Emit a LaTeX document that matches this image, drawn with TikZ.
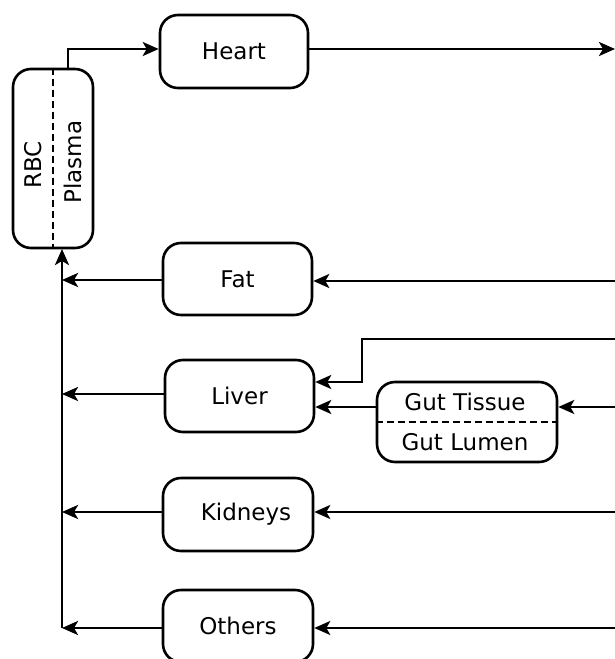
\documentclass[tikz,border=0pt]{standalone}
\usepackage{fontspec}
\setmainfont{DejaVu Sans}
\usetikzlibrary{arrows.meta}
\begin{document}
\begin{tikzpicture}[x=1pt,y=-1pt, line width=2.6pt,
 box/.style={draw, rounded corners=18pt, minimum width=149pt, minimum height=72pt, inner sep=0pt, font=\fontsize{23}{27}\selectfont},
 lbl/.style={inner sep=0pt, font=\fontsize{23}{27}\selectfont},
 arr/.style={-{Stealth[length=16pt,width=14pt,inset=4pt]}},
 sep/.style={line width=2.2pt, dash pattern=on 7pt off 4pt},
 ]
\useasboundingbox (0,0) rectangle (615,659);
% boxes
\node[box, minimum width=80pt, minimum height=179pt] (blood) at (53,158.5) {};
\node[lbl, rotate=90] (rbc) at (33,165) {RBC};
\node[lbl, rotate=90] (plasma) at (73,162) {Plasma};
\draw[sep] (blood.north) -- (blood.south);

\node[box, minimum width=148pt, minimum height=73pt] (heart) at (234,51.5) {Heart};
\node[box] (fat) at (237.5,279) {Fat};
\node[box] (liver) at (239.5,396) {Liver};
\node[box, minimum width=180pt, minimum height=80pt] (gut) at (467,422) {};
\node[lbl] (tissue) at (465,402) {Gut Tissue};
\node[lbl] (lumen) at (465,442) {Gut Lumen};
\draw[sep] (gut.west |- 0,422) -- (gut.east |- 0,422);
\node[box, minimum width=150pt, minimum height=73pt] (kid) at (238,514.5) {\hspace*{16pt}Kidneys};
\node[box, minimum width=150pt, minimum height=72pt] (oth) at (238,626) {Others};

% right-edge coordinates
\coordinate (rh) at (615,49);
\coordinate (rf) at (615,281);
\coordinate (rl) at (615,339);
\coordinate (rg) at (615,407);
\coordinate (rk) at (615,512);
\coordinate (ro) at (615,628);
\coordinate (bend) at (362,339);
% collector line
\coordinate (cbot) at (62,628);
\coordinate (cf) at (62,280);
\coordinate (cl) at (62,394);
\coordinate (ck) at (62,512);

% connectors
\draw[arr] ([xshift=15pt]blood.north) |- ([yshift=2.5pt]heart.west);
\draw[arr] ([yshift=2.5pt]heart.east) -- (rh);
\draw[arr] (rf) -- (fat.east |- rf);
\draw[arr] (fat.west |- cf) -- (cf);
\draw[arr] (rl) -- (bend) |- ([yshift=14pt]liver.east);
\draw[arr] (gut.west |- rg) -- (liver.east |- rg);
\draw[arr] (rg) -- (gut.east |- rg);
\draw[arr] (liver.west |- cl) -- (cl);
\draw[arr] (rk) -- (kid.east |- rk);
\draw[arr] (kid.west |- ck) -- (ck);
\draw[arr] (ro) -- (oth.east |- ro);
\draw[arr] (oth.west |- cbot) -- (cbot);
\draw[arr] (cbot) -- (62,249);
\end{tikzpicture}
\end{document}
